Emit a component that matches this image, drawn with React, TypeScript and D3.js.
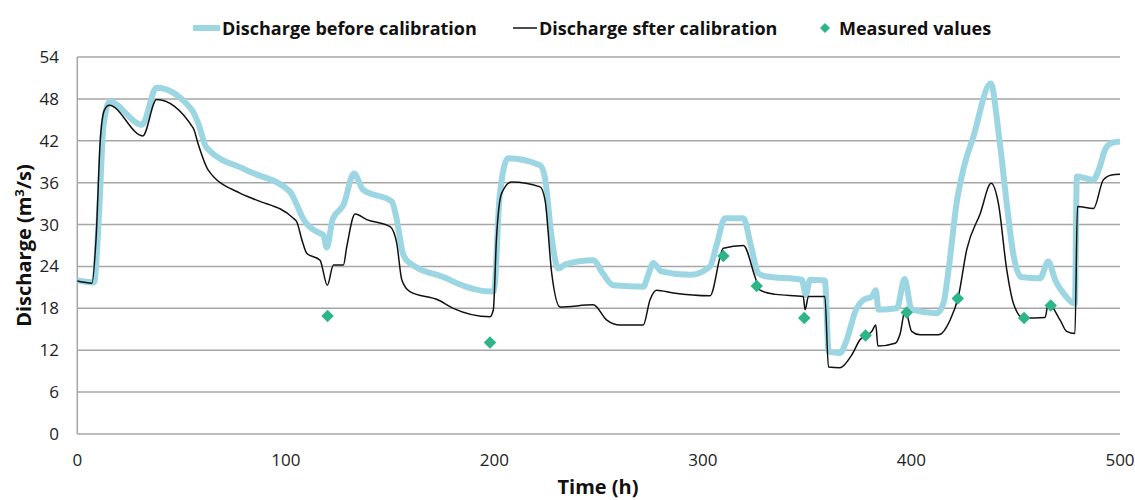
import React from 'react'
import * as d3 from 'd3'

// readings taken off the original figure: [time (h), discharge (m3/s)]
const beforeCalib: [number, number][] = [
  [0, 22], [4, 21.8], [8, 21.7], [10.5, 32], [12.5, 44], [15.5, 47.6], [31, 44.3], [38, 49.6],
  [55, 46.4], [58, 44.5], [62, 41], [81, 37.8], [102, 34.7], [105, 33], [108, 31], [116, 28.8],
  [118, 28.5], [119.6, 26.7], [122.5, 30.8], [127.6, 32.8], [132.7, 37.3], [137, 35], [150.8, 33.3],
  [153, 31], [156, 26], [158.5, 24.7], [177, 22.3], [182, 21.6], [198.7, 20.4], [199.8, 20.5],
  [202.5, 34], [206.5, 39.5], [221.9, 38.5], [224.3, 36.6], [227.5, 28], [230.7, 23.7], [234, 24.3],
  [247.4, 24.9], [252, 23], [257, 21.3], [271.4, 21.1], [274, 23], [276.2, 24.5], [280, 23.3],
  [293.8, 22.8], [303.4, 24], [306.5, 27], [310.6, 30.9], [319.4, 30.9], [323, 27], [326.6, 23],
  [330, 22.6], [347.4, 22.1], [349.4, 19.9], [351.3, 22.1], [358.5, 22], [360.3, 11.8], [365.7, 11.6],
  [369, 13.5], [373, 17.5], [376.9, 19.2], [381, 19.7], [382.9, 20.6], [384.2, 17.8], [393, 18],
  [396.7, 22.2], [400.1, 17.8], [412, 17.3], [415.3, 18.7], [418, 24], [421.6, 33], [424.8, 37.8],
  [429.7, 42.6], [438, 50.2], [442, 42.6], [445.7, 33], [449, 25.5], [452.5, 22.5], [461.6, 22.3],
  [465.6, 24.7], [469, 22], [472.8, 20.2], [478.4, 18.7], [479.3, 36.9], [487.2, 36.4], [490, 38],
  [492.8, 40.7], [496, 41.7], [500, 41.9],
]

const afterCalib: [number, number][] = [
  [0, 21.9], [7, 21.6], [9, 28], [11, 42], [13, 46.4], [15.3, 47.1], [31.4, 42.7], [38, 47.9],
  [55.6, 43.8], [58, 41.5], [62.8, 37.8], [78, 34.5], [86, 33.5], [103.6, 30.9], [105.2, 30.4],
  [108, 27.5], [110, 25.9], [116.4, 24.9], [119.9, 21.3], [122.8, 24.2], [127.6, 24.2], [129.2, 26.8],
  [133.2, 31.5], [138.8, 30.7], [150, 29.7], [153.2, 27.3], [155.6, 22.1], [159.5, 20.4],
  [173.1, 19.2], [180.3, 18], [197.9, 16.8], [199.5, 17.8], [201, 28], [203.5, 34.5], [208.3, 36.1],
  [221.9, 35.4], [224.3, 33.5], [227.5, 23], [231.5, 18.2], [247.4, 18.5], [253.9, 16.3],
  [260.2, 15.6], [271.4, 15.6], [274.6, 19.2], [277.8, 20.6], [285.8, 20.2], [303.4, 19.8],
  [309.8, 26.6], [319.4, 27], [325, 22.5], [327.4, 20.6], [335, 20], [348.1, 19.7], [349, 17.8],
  [350.6, 19.7], [358.5, 19.7], [360.2, 9.6], [365.7, 9.5], [371.3, 11.3], [375.3, 13.5], [381, 14.7],
  [382.9, 15.6], [383.9, 12.6], [392.2, 13], [394.6, 14.4], [397, 17.8], [400.1, 14.7], [404.1, 14.2],
  [412.9, 14.2], [418.5, 16.3], [422.5, 19.7], [426.5, 26.4], [433, 31.6], [438.2, 35.9],
  [441.7, 33], [445.7, 23.5], [448.9, 18.7], [453.7, 16.6], [464.1, 16.7], [465.6, 18.7],
  [471.3, 16.3], [474.4, 14.7], [478.4, 14.4], [479.6, 32.6], [487.3, 32.3], [492, 36.4],
  [496, 37.1], [500, 37.2],
]

const measuredTime = [120, 197.9, 309.8, 325.8, 348.6, 378, 397.7, 422.2, 454, 466.8]
const measuredQ = [16.9, 13.1, 25.5, 21.2, 16.6, 14.1, 17.4, 19.4, 16.6, 18.4]

const yTicks = [0, 6, 12, 18, 24, 30, 36, 42, 48, 54]
const xTicks = [0, 100, 200, 300, 400, 500]

const legendItems = ['Discharge before calibration', 'Discharge sfter calibration', 'Measured values']

const W = 1135
const H = 500
const FONT = "'Open Sans', 'Noto Sans', sans-serif"
const BLUE = '#9dd6e3'
const GREEN = '#2db58a'

export default function App() {
  const x = d3.scaleLinear().domain([0, 500]).range([77.3, 1120])
  const y = d3.scaleLinear().domain([0, 54]).range([434, 57])

  const line = d3.line<[number, number]>()
    .x(d => x(d[0]))
    .y(d => y(d[1]))
    .curve(d3.curveMonotoneX)

  const diamond = d3.symbol().type(d3.symbolSquare).size(78)()

  return (
    <div style={{ position: 'absolute', left: 0, top: 0 }}>
      <svg width={W} height={H} style={{ display: 'block', background: '#fff' }} fontFamily={FONT}>
        {/* gridlines */}
        {yTicks.map(t => (
          <line key={t} x1={77.3} x2={1120} y1={y(t)} y2={y(t)} stroke="#a6a6a6" strokeWidth={1.5} />
        ))}
        <line x1={77.3} x2={77.3} y1={y(0)} y2={y(54)} stroke="#a6a6a6" strokeWidth={1.5} />

        {/* y tick labels */}
        {yTicks.map(t => (
          <text key={t} x={59} y={y(t)} dy="0.35em" textAnchor="end" fontSize={17} fill="#222">{t}</text>
        ))}
        {/* x tick labels */}
        {xTicks.map(t => (
          <text key={t} x={x(t)} y={466} textAnchor="middle" fontSize={17} fill="#222">{t}</text>
        ))}

        {/* axis titles */}
        <text x={598} y={494} textAnchor="middle" fontSize={20} fontWeight="bold" fill="#111">Time (h)</text>
        <text transform={`translate(31,${(y(0) + y(54)) / 2}) rotate(-90)`} textAnchor="middle" fontSize={20} fontWeight="bold" fill="#111">
          Discharge (m<tspan dy={-7} fontSize={13}>3</tspan><tspan dy={7}>/s)</tspan>
        </text>

        {/* series */}
        <path d={line(beforeCalib) || ''} fill="none" stroke={BLUE} strokeWidth={6} strokeLinejoin="round" />
        <path d={line(afterCalib) || ''} fill="none" stroke="#111" strokeWidth={1.5} strokeLinejoin="round" />
        {measuredTime.map((t, i) => (
          <path key={i} d={diamond || ''} transform={`translate(${x(t)},${y(measuredQ[i])}) rotate(45)`} fill={GREEN} />
        ))}

        {/* legend */}
        <line x1={193} x2={220} y1={28} y2={28} stroke={BLUE} strokeWidth={6} />
        <text x={222} y={35} fontSize={18} fontWeight="bold" fill="#111">{legendItems[0]}</text>
        <line x1={513} x2={537} y1={28} y2={28} stroke="#111" strokeWidth={1.5} />
        <text x={539} y={35} fontSize={18} fontWeight="bold" fill="#111">{legendItems[1]}</text>
        <path d={d3.symbol().type(d3.symbolSquare).size(50)() || ''} transform="translate(825,28) rotate(45)" fill={GREEN} />
        <text x={839} y={35} fontSize={18} fontWeight="bold" fill="#111">{legendItems[2]}</text>
      </svg>
    </div>
  )
}
